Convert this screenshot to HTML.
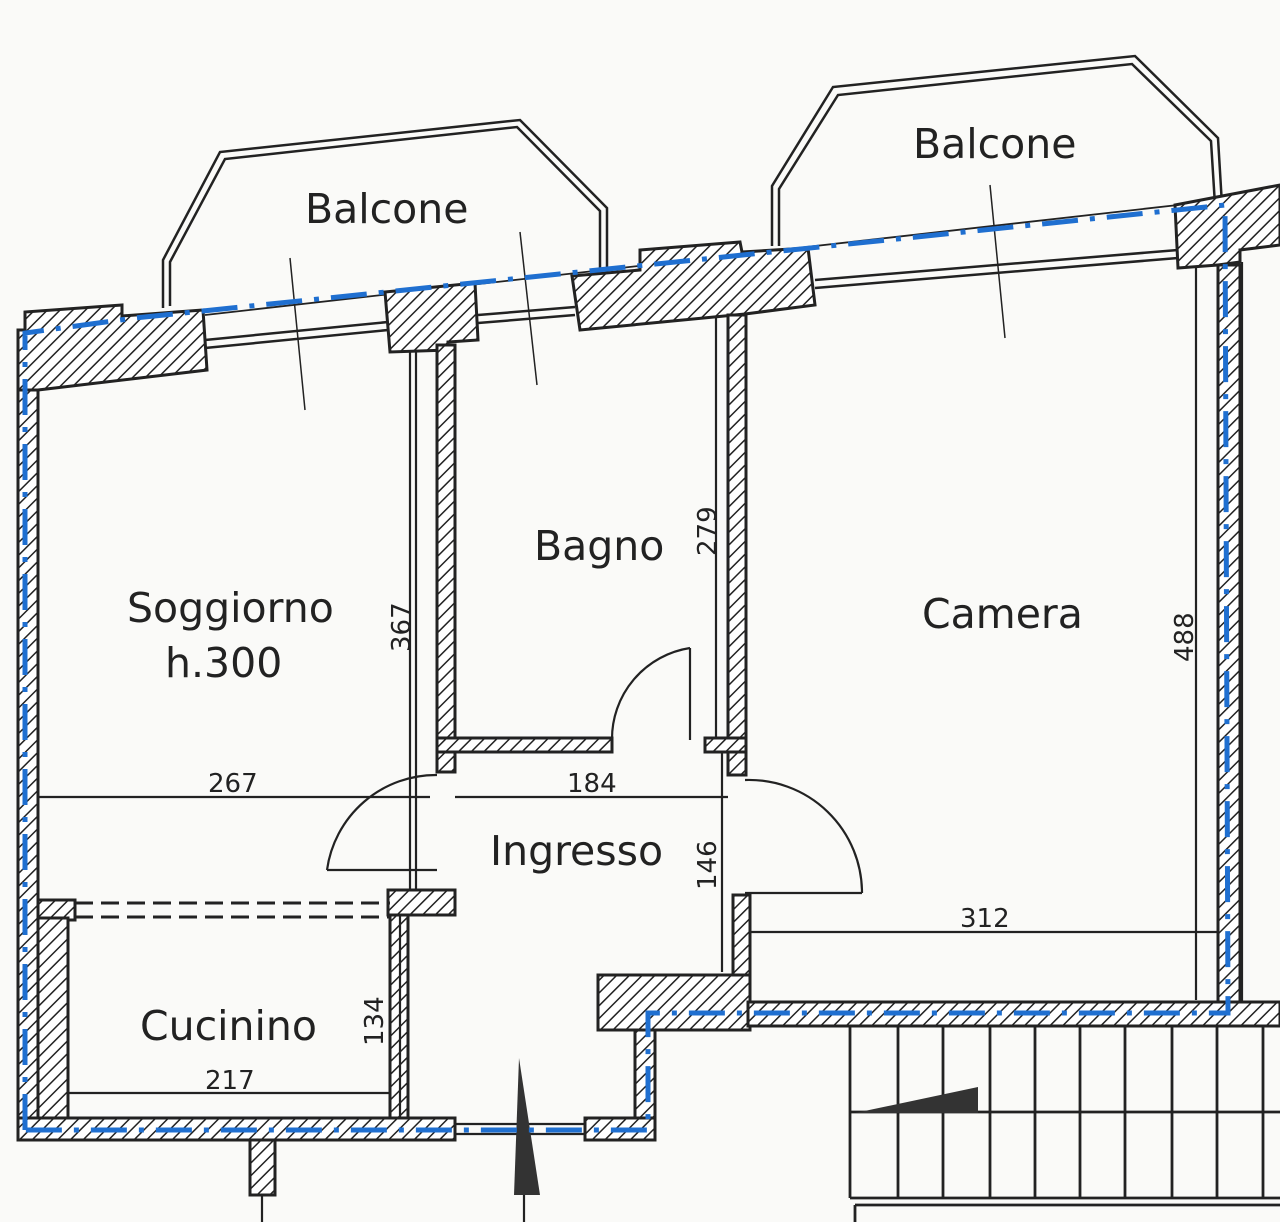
<!DOCTYPE html>
<html><head><meta charset="utf-8"><style>
html,body{margin:0;padding:0;background:#fafaf8;}
svg{display:block;}
text{font-family:"DejaVu Sans","Liberation Sans",sans-serif;fill:#222;}
</style></head><body>
<svg width="1280" height="1222" viewBox="0 0 1280 1222" xmlns="http://www.w3.org/2000/svg">
<defs>
<pattern id="h" patternUnits="userSpaceOnUse" width="9" height="9" patternTransform="rotate(45)">
<rect width="9" height="9" fill="#fff"/><line x1="0" y1="0" x2="0" y2="9" stroke="#222" stroke-width="3"/>
</pattern>
</defs>
<rect width="1280" height="1222" fill="#fafaf8"/>

<g fill="none" stroke="#222" stroke-width="2.5">
<polyline points="163,308 163,260 220,152 520,120 607,208 607,268"/>
<polyline points="170,306 170,262 225,159 517,127 600,211 600,268"/>
<polyline points="772,246 772,186 833,87 1135,56 1218,138 1222,205"/>
<polyline points="779,246 779,189 838,95 1132,64 1211,141 1215,205"/>
<line x1="205" y1="340" x2="388" y2="322"/><line x1="205" y1="348" x2="388" y2="330"/>
<line x1="478" y1="315" x2="575" y2="307"/><line x1="478" y1="323" x2="575" y2="315"/>
<line x1="815" y1="280" x2="1178" y2="250"/><line x1="815" y1="288" x2="1178" y2="258"/>
<line x1="205" y1="315" x2="1178" y2="205" stroke-width="1.8"/>
<line x1="290" y1="258" x2="305" y2="410" stroke-width="1.5"/>
<line x1="520" y1="232" x2="537" y2="385" stroke-width="1.5"/>
<line x1="990" y1="185" x2="1005" y2="338" stroke-width="1.5"/>
</g>

<g fill="url(#h)" stroke="#222" stroke-width="3">
<polygon points="18,330 25,330 25,312 122,305 122,316 203,310 207,370 38,390 18,392"/>
<rect x="18" y="390" width="20" height="750"/>
<polygon points="385,292 475,283 478,340 448,342 448,350 390,352"/>
<polygon points="572,276 640,270 640,250 740,242 742,252 808,248 815,305 745,314 580,330"/>
<polygon points="1175,205 1280,185 1280,245 1240,250 1240,262 1218,265 1178,268"/>
<rect x="1218" y="265" width="22" height="740"/>
<rect x="437" y="345" width="18" height="400"/>
<rect x="728" y="315" width="18" height="460"/>
<rect x="437" y="738" width="175" height="14"/>
<rect x="705" y="738" width="41" height="14"/>
<rect x="437" y="752" width="18" height="20"/>
<rect x="388" y="890" width="67" height="25"/>
<rect x="38" y="900" width="37" height="20"/>
<rect x="38" y="918" width="30" height="202"/>
<rect x="390" y="915" width="18" height="205"/>
<rect x="18" y="1118" width="437" height="22"/>
<rect x="250" y="1140" width="25" height="55"/>
<rect x="733" y="895" width="17" height="85"/>
<rect x="598" y="975" width="152" height="55"/>
<rect x="748" y="1002" width="532" height="24"/>
<rect x="635" y="1030" width="20" height="110"/>
<rect x="585" y="1118" width="70" height="22"/>
</g>
<g fill="none" stroke="#222" stroke-width="2.2">
<line x1="1242" y1="262" x2="1242" y2="1002"/>
<line x1="455" y1="1124" x2="585" y2="1124"/><line x1="455" y1="1134" x2="585" y2="1134"/>
<line x1="410" y1="352" x2="410" y2="890"/><line x1="416" y1="352" x2="416" y2="890"/>
<line x1="716" y1="318" x2="716" y2="738"/>
<line x1="722" y1="752" x2="722" y2="972"/>
<line x1="1196" y1="268" x2="1196" y2="1000"/>
<line x1="400" y1="915" x2="400" y2="1118"/>
<line x1="75" y1="903" x2="390" y2="903" stroke-dasharray="18,8" stroke-width="3"/>
<line x1="75" y1="917" x2="390" y2="917" stroke-dasharray="18,8" stroke-width="3"/>
<line x1="38" y1="797" x2="430" y2="797"/>
<line x1="455" y1="797" x2="728" y2="797"/>
<line x1="750" y1="932" x2="1218" y2="932"/>
<line x1="68" y1="1093" x2="390" y2="1093"/>
<path d="M690,648 A92,92 0 0 0 612,740"/><line x1="690" y1="648" x2="690" y2="740"/>
<path d="M437,775 A110,110 0 0 0 327,870"/><line x1="327" y1="870" x2="437" y2="870"/>
<path d="M745,780 A113,113 0 0 1 862,893"/><line x1="745" y1="893" x2="862" y2="893"/>
<g stroke-width="2.8">
<line x1="850" y1="1112" x2="1280" y2="1112"/>
<line x1="850" y1="1198" x2="1280" y2="1198"/>
<line x1="855" y1="1205" x2="1280" y2="1205"/>
<line x1="855" y1="1205" x2="855" y2="1222"/>
<line x1="850" y1="1026" x2="850" y2="1198"/><line x1="898" y1="1026" x2="898" y2="1198"/>
<line x1="943" y1="1026" x2="943" y2="1198"/><line x1="990" y1="1026" x2="990" y2="1198"/>
<line x1="1035" y1="1026" x2="1035" y2="1198"/><line x1="1080" y1="1026" x2="1080" y2="1198"/>
<line x1="1125" y1="1026" x2="1125" y2="1198"/><line x1="1172" y1="1026" x2="1172" y2="1198"/>
<line x1="1217" y1="1026" x2="1217" y2="1198"/><line x1="1263" y1="1026" x2="1263" y2="1198"/>
</g>
<line x1="262" y1="1195" x2="262" y2="1222"/>
<line x1="524" y1="1195" x2="524" y2="1222"/>
</g>
<polygon points="855,1113 978,1087 978,1113" fill="#333"/>
<polygon points="519,1058 514,1195 540,1195" fill="#333"/>

<polyline fill="none" stroke="#1f6fd0" stroke-width="5" stroke-dasharray="36,12,5,12" points="25,1130 25,333 135,318 1225,205 1228,1013 648,1013 648,1130 25,1130"/>

<g font-size="41">
<text x="305" y="223">Balcone</text>
<text x="913" y="158">Balcone</text>
<text x="534" y="560">Bagno</text>
<text x="127" y="622">Soggiorno</text>
<text x="165" y="677">h.300</text>
<text x="922" y="628">Camera</text>
<text x="490" y="865">Ingresso</text>
<text x="140" y="1040">Cucinino</text>
</g>
<g font-size="26">
<text x="208" y="792">267</text>
<text x="567" y="792">184</text>
<text x="960" y="927">312</text>
<text x="205" y="1089">217</text>
<text transform="translate(410,652) rotate(-90)">367</text>
<text transform="translate(716,556) rotate(-90)">279</text>
<text transform="translate(1193,662) rotate(-90)">488</text>
<text transform="translate(716,890) rotate(-90)">146</text>
<text transform="translate(383,1046) rotate(-90)">134</text>
</g>
</svg>
</body></html>
